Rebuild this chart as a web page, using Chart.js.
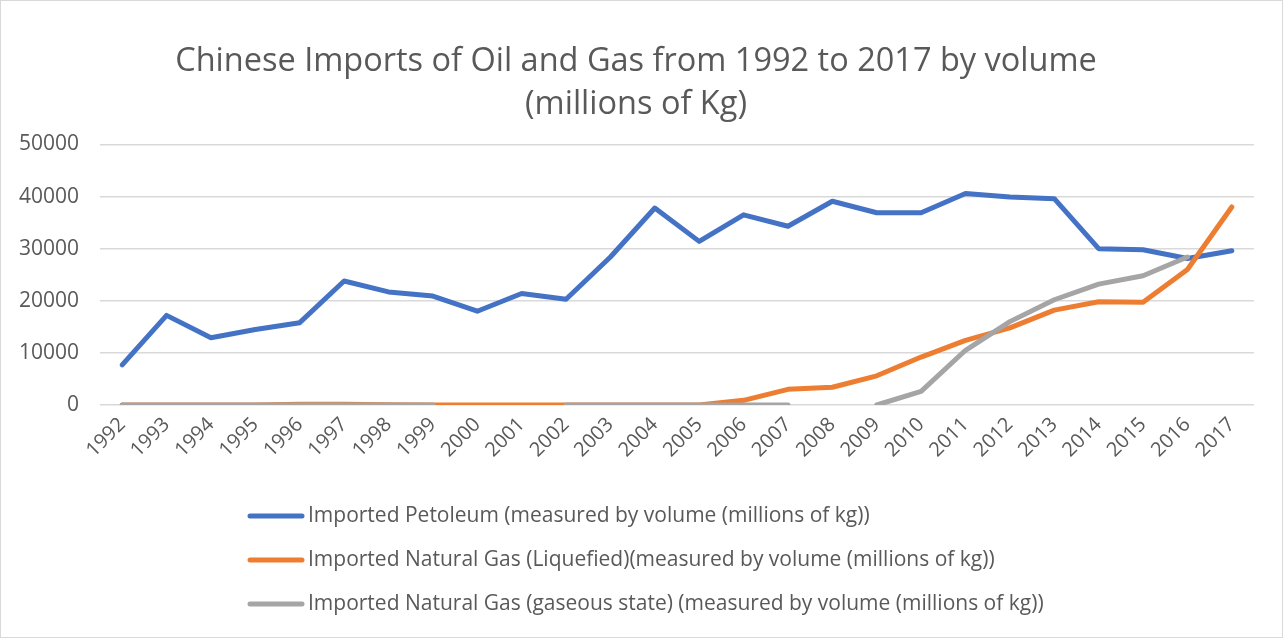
<!DOCTYPE html>
<html>
<head>
<meta charset="utf-8">
<script src="https://cdn.jsdelivr.net/npm/chart.js@4/dist/chart.umd.min.js"></script>
<style>
  html, body { margin: 0; padding: 0; background: #ffffff; }
  #wrap { position: relative; width: 1283px; height: 638px; }
</style>
</head>
<body>
<div id="wrap"><canvas id="c" width="1283" height="638"></canvas></div>
<script>
const years = ['1992','1993','1994','1995','1996','1997','1998','1999','2000','2001','2002','2003','2004','2005','2006','2007','2008','2009','2010','2011','2012','2013','2014','2015','2016','2017'];
const petroleum = [7700,17200,12900,14500,15800,23800,21700,20900,18000,21400,20300,28400,37800,31400,36500,34300,39100,36900,36900,40600,39900,39600,30000,29800,28100,29600];
const lng = [0,0,0,0,150,150,50,0,0,0,0,0,0,0,900,3000,3400,5600,9200,12400,14800,18200,19800,19700,26000,38000];
const gaseous = [0,0,0,0,0,0,0,0,null,null,0,0,0,0,0,0,null,0,2600,10500,16000,20200,23200,24800,28400,null];
const seriesNames = [
  'Imported Petoleum (measured by volume (millions of kg))',
  'Imported Natural Gas (Liquefied)(measured by volume (millions of kg))',
  'Imported Natural Gas (gaseous state) (measured by volume (millions of kg))'
];
const seriesColors = ['#4472C4', '#ED7D31', '#A5A5A5'];
const titleLines = ['Chinese Imports of Oil and Gas from 1992 to 2017 by volume', '(millions of Kg)'];
const yTicks = [0, 10000, 20000, 30000, 40000, 50000];

const FONT = "'Open Sans', 'Liberation Sans', sans-serif";
const TEXT = '#595959';

const legendPlugin = {
  id: 'customLegend',
  afterDraw(chart) {
    const ctx = chart.ctx;
    ctx.save();
    const rows = [516, 560, 604];
    chart.data.datasets.forEach((ds, i) => {
      const y = rows[i];
      ctx.strokeStyle = ds.borderColor;
      ctx.lineWidth = 5;
      ctx.lineCap = 'round';
      ctx.beginPath();
      ctx.moveTo(250, y);
      ctx.lineTo(302, y);
      ctx.stroke();
      ctx.fillStyle = TEXT;
      ctx.font = "21px " + FONT;
      ctx.textBaseline = 'middle';
      ctx.textAlign = 'left';
      ctx.fillText(ds.label, 308, y);
    });
    ctx.strokeStyle = '#d9d9d9';
    ctx.lineWidth = 1;
    ctx.strokeRect(0.5, 0.5, chart.width - 1, chart.height - 1);
    ctx.restore();
  }
};

new Chart(document.getElementById('c'), {
  type: 'line',
  data: {
    labels: years,
    datasets: [
      { label: seriesNames[0], data: petroleum, borderColor: seriesColors[0], backgroundColor: seriesColors[0], order: 2 },
      { label: seriesNames[1], data: lng, borderColor: seriesColors[1], backgroundColor: seriesColors[1], order: 1 },
      { label: seriesNames[2], data: gaseous, borderColor: seriesColors[2], backgroundColor: seriesColors[2], order: 0 }
    ]
  },
  options: {
    responsive: false,
    animation: false,
    spanGaps: false,
    elements: {
      line: { borderWidth: 5, tension: 0, borderCapStyle: 'round', borderJoinStyle: 'round' },
      point: { radius: 0, hoverRadius: 0 }
    },
    layout: { padding: { left: 18, right: 29, top: 0, bottom: 0 } },
    plugins: {
      legend: { display: false },
      tooltip: { enabled: false },
      title: {
        display: true,
        text: titleLines,
        color: TEXT,
        font: { family: FONT, size: 32.5, weight: 'normal', lineHeight: 1.33 },
        padding: { top: 40, bottom: 18 }
      }
    },
    scales: {
      x: {
        type: 'category',
        offset: true,
        grid: { display: false, drawTicks: false },
        border: { display: false },
        ticks: {
          color: TEXT,
          font: { family: FONT, size: 20 },
          minRotation: 45,
          maxRotation: 45,
          autoSkip: false,
          padding: 8
        },
        afterFit(scale) { scale.height = 233; }
      },
      y: {
        min: 0,
        max: 50000,
        afterBuildTicks(scale) { scale.ticks = yTicks.map(v => ({ value: v })); },
        grid: { color: '#d9d9d9', lineWidth: 1.5, drawTicks: false },
        border: { display: false },
        ticks: {
          color: TEXT,
          font: { family: FONT, size: 21 },
          padding: 21,
          callback: (v) => String(v)
        },
        afterFit(scale) { scale.width = 82; }
      }
    }
  },
  plugins: [legendPlugin]
});
</script>
</body>
</html>
